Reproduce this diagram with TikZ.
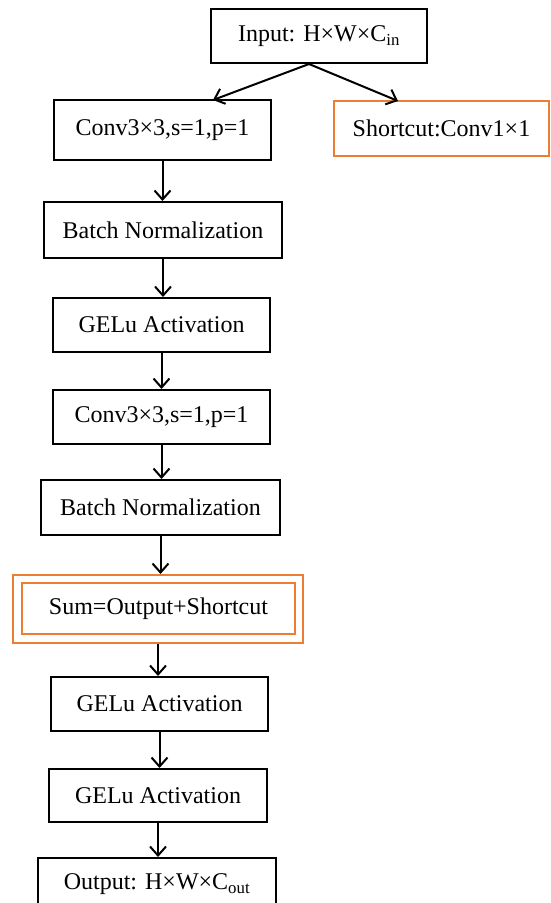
\documentclass[tikz,border=0pt]{standalone}
\usepackage{fontspec}
\setmainfont{Liberation Serif}
\usetikzlibrary{arrows.meta}
\definecolor{boxorange}{RGB}{237,125,49}
\begin{document}
\begin{tikzpicture}[x=1pt,y=-1pt,
  blk/.style={draw=black,line width=2pt,minimum height=#1,inner sep=0pt,font=\fontsize{24}{28}\selectfont},
  blk/.default=55pt,
  obox/.style={draw=boxorange,line width=2pt,minimum height=55pt,inner sep=0pt,font=\fontsize{24}{28}\selectfont},
  arr/.style={line width=2pt,-{Straight Barb[length=9pt,width=16pt,line width=2pt]}}]
\clip (0,0) rectangle (551,903);
\useasboundingbox (0,0) rectangle (551,903);
\node[blk,minimum width=216pt,minimum height=54pt] (in) at (319,36) {Input: H×W×C\textsubscript{in}};
\node[blk,minimum width=217pt,minimum height=60pt] (c1) at (162.5,130) {Conv3×3,s=1,p=1};
\node[obox,minimum width=215pt,minimum height=55pt] (sc) at (441.5,128.5) {Shortcut:Conv1×1};
\node[blk,minimum width=238pt,minimum height=56pt] (b1) at (163,230) {Batch Normalization};
\node[blk,minimum width=217pt,minimum height=54pt] (g1) at (161.5,325) {GELu Activation};
\node[blk,minimum width=217pt,minimum height=54pt] (c2) at (161.5,417) {Conv3×3,s=1,p=1};
\node[blk,minimum width=239pt,minimum height=55pt] (b2) at (160.5,507.5) {Batch Normalization};
\node[draw=boxorange,line width=2pt,minimum width=290pt,minimum height=68pt,inner sep=0pt] (so) at (158,609) {};
\node[obox,minimum width=273pt,minimum height=51pt] (sum) at (158.5,608.5) {Sum=Output+Shortcut};
\node[blk,minimum width=217pt,minimum height=54pt] (g2) at (159.5,704) {GELu Activation};
\node[blk,minimum width=218pt,minimum height=53pt] (g3) at (158,795.5) {GELu Activation};
\node[blk,minimum width=238pt,minimum height=60pt,anchor=north] (out) at (157,857) {};
\node[font=\fontsize{24}{28}\selectfont] (outt) at (157,884) {Output: H×W×C\textsubscript{out}};
\coordinate (fork) at (309,64);
\draw[arr] (fork) -- (213,100);
\draw[arr] (fork) -- (398,101);
\draw[arr] (c1.south) -- (c1.south |- b1.north);
\draw[arr] (b1.south) -- (b1.south |- g1.north);
\draw[arr] (g1.south) -- (g1.south |- c2.north);
\draw[arr] (c2.south) -- (c2.south |- b2.north);
\draw[arr] (b2.south) -- (b2.south |- so.north);
\draw[arr] (so.south) -- (so.south |- g2.north);
\draw[arr] (g2.south) -- (g2.south |- g3.north);
\draw[arr] (g3.south) -- (g3.south |- out.north);
\end{tikzpicture}
\end{document}
